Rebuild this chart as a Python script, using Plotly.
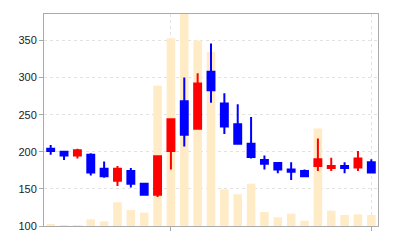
import plotly.graph_objects as go

idx = list(range(25))
opens  = [204, 200, 195, 196, 177, 161, 174, 157, 142, 201, 268, 231, 308, 265, 237, 211, 189, 185, 176, 174, 181, 178, 181, 179, 186]
highs  = [209, 200, 204, 198, 187, 181, 178, 158, 195, 244, 300, 306, 346, 279, 264, 247, 195, 186, 186, 176, 218, 192, 186, 201, 190]
lows   = [196, 189, 191, 168, 165, 154, 152, 141, 139, 176, 207, 231, 266, 224, 210, 191, 176, 171, 162, 167, 174, 174, 171, 174, 172]
closes = [201, 195, 202, 172, 167, 177, 157, 142, 194, 244, 223, 292, 283, 234, 211, 193, 184, 176, 173, 167, 190, 181, 178, 191, 172]
volume = [27, 10, 13, 90, 63, 320, 215, 180, 1890, 2530, 3000, 2500, 2346, 494, 427, 570, 188, 117, 166, 71, 1315, 206, 148, 157, 148]
y_ticks = [100, 150, 200, 250, 300, 350]
x_ticks = [9, 24]

fig = go.Figure()
fig.add_trace(go.Bar(x=idx, y=volume, marker=dict(color="#FFECC6", line=dict(width=0)),
                     yaxis="y", showlegend=False, hoverinfo="skip"))
fig.add_trace(go.Candlestick(x=idx, open=opens, high=highs, low=lows, close=closes,
                             yaxis="y2", showlegend=False, whiskerwidth=0,
                             increasing=dict(line=dict(color="#FF0000", width=2), fillcolor="#FF0000"),
                             decreasing=dict(line=dict(color="#0000FF", width=2), fillcolor="#0000FF")))

fig.update_layout(
    width=400, height=240,
    margin=dict(l=44, r=22, t=14, b=14, autoexpand=False),
    paper_bgcolor="white", plot_bgcolor="white",
    bargap=0.36, boxgap=0.26,
    font=dict(family="Liberation Sans, Arial, sans-serif", size=11, color="#222222"),
    xaxis=dict(range=[-0.5, 24.5], tickvals=x_ticks, showticklabels=False, automargin=False,
               ticks="outside", ticklen=4, tickcolor="#aaaaaa",
               showgrid=True, gridcolor="#e2e2e2", griddash="3px,3px", gridwidth=1,
               showline=True, linecolor="#aaaaaa", linewidth=1, mirror=True,
               rangeslider=dict(visible=False), zeroline=False),
    yaxis=dict(range=[0, 2857], visible=False, showgrid=False, fixedrange=True),
    yaxis2=dict(range=[100, 385.7], overlaying="y", side="left", tickvals=y_ticks, automargin=False,
                ticks="outside", ticklen=4, tickcolor="#aaaaaa",
                showgrid=True, gridcolor="#e2e2e2", griddash="3px,3px", gridwidth=1,
                showline=True, linecolor="#aaaaaa", linewidth=1, mirror=True,
                zeroline=False),
)

fig.write_html("out.html")
